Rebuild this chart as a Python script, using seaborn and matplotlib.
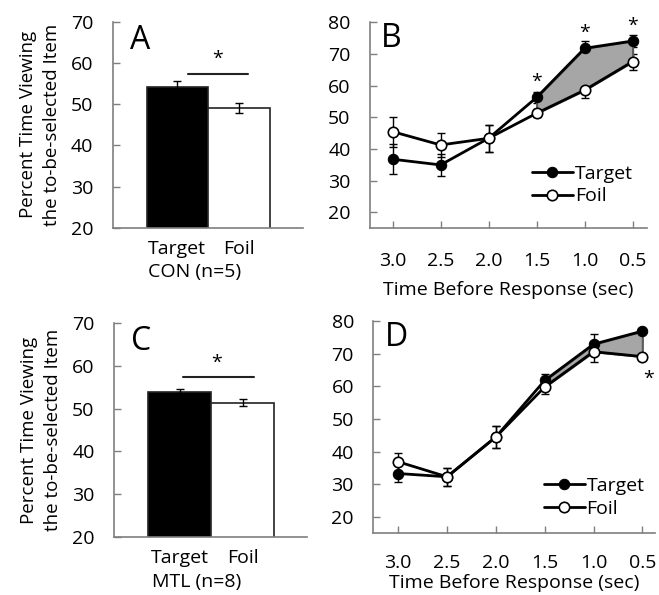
import numpy as np
import pandas as pd
import seaborn as sns
import matplotlib.pyplot as plt

sns.set_theme(style="ticks")
plt.rcParams['font.family'] = ['Open Sans', 'DejaVu Sans']
plt.rcParams['text.color'] = 'black'
plt.rcParams['axes.labelcolor'] = 'black'
plt.rcParams['xtick.labelcolor'] = 'black'
plt.rcParams['ytick.labelcolor'] = 'black'

# bar panels (A, C)
conditions = ["Target", "Foil"]
con_means = [54.2, 49.0]
con_sem = [1.3, 1.2]
mtl_means = [53.9, 51.4]
mtl_sem = [0.8, 0.8]

# line panels (B, D)
times = [3.0, 2.5, 2.0, 1.5, 1.0, 0.5]
con_target = [36.8, 35.0, 43.4, 56.3, 71.8, 74.1]
con_target_sem = [4.7, 3.6, 4.3, 1.8, 2.4, 1.8]
con_foil = [45.5, 41.3, 43.4, 51.3, 58.6, 67.6]
con_foil_sem = [4.7, 3.8, 4.3, 1.3, 2.4, 2.5]
mtl_target = [33.3, 32.3, 44.5, 61.8, 72.9, 76.9]
mtl_target_sem = [2.6, 2.8, 3.3, 2.0, 3.0, 0.6]
mtl_foil = [36.9, 32.3, 44.5, 59.8, 70.6, 69.1]
mtl_foil_sem = [2.7, 2.8, 3.3, 2.3, 3.3, 0.6]

FS = 14
SPINE = '#7f7f7f'

fig = plt.figure(figsize=(6.59, 5.95), dpi=100)
axA = fig.add_axes([0.1710, 0.6173, 0.2888, 0.3462])
axB = fig.add_axes([0.5615, 0.6163, 0.4203, 0.3462])
axC = fig.add_axes([0.1730, 0.0980, 0.2929, 0.3587])
axD = fig.add_axes([0.5665, 0.1037, 0.4275, 0.3568])


def style_axes(ax):
    sns.despine(ax=ax)
    for s in ['left', 'bottom']:
        ax.spines[s].set_color(SPINE)
        ax.spines[s].set_linewidth(1.2)
    ax.tick_params(direction='in', length=5, width=1, color=SPINE,
                   labelsize=FS, pad=14)


def bar_panel(ax, means, sem, letter, group, xlim, sig_x, star_x):
    sns.barplot(x=conditions, y=means, hue=conditions, palette=['black', 'white'],
                edgecolor='#222222', linewidth=1.2, width=1.0, legend=False,
                saturation=1, ax=ax)
    ax.errorbar(range(len(means)), means, yerr=sem, fmt='none', ecolor='black',
                elinewidth=1, capsize=3, capthick=1, zorder=5)
    ax.set_ylim(20, 70)
    ax.set_yticks([20, 30, 40, 50, 60, 70])
    ax.set_xlim(*xlim)
    style_axes(ax)
    ax.tick_params(axis='x', length=0, pad=9)
    ax.set_xlabel(group, fontsize=FS, labelpad=3)
    ax.xaxis.set_label_coords(0.43, -0.17)
    ax.set_ylabel("Percent Time Viewing\nthe to-be-selected Item", fontsize=13.5,
                  labelpad=7, linespacing=1.45)
    ax.plot(sig_x, [57.3, 57.3], color='#222222', lw=1.5)
    ax.text(star_x, 58.7, "*", ha='center', va='bottom', fontsize=FS)
    ax.text(0.09, 0.99, letter, transform=ax.transAxes, ha='left', va='top',
            fontsize=23)


def line_panel(ax, target, target_sem, foil, foil_sem, letter, xlim,
               tickpad, xlabelpad):
    ax.fill_between(times[3:], target[3:], foil[3:], color='#a6a6a6',
                    edgecolor='#5a5a5a', linewidth=1.5, zorder=3)
    ax.errorbar(times, target, yerr=target_sem, fmt='none', ecolor='black',
                elinewidth=1, capsize=3, capthick=1, zorder=2)
    ax.errorbar(times, foil, yerr=foil_sem, fmt='none', ecolor='black',
                elinewidth=1, capsize=3, capthick=1, zorder=2)
    sns.lineplot(x=times, y=target, color='black', lw=2, marker='o',
                 markersize=7.5, markerfacecolor='black', markeredgecolor='black',
                 label='Target', ax=ax, zorder=4)
    sns.lineplot(x=times, y=foil, color='black', lw=2, marker='o',
                 markersize=7.5, markerfacecolor='white', markeredgecolor='black',
                 markeredgewidth=1.2, label='Foil', ax=ax, zorder=4)
    ax.set_ylim(15, 80)
    ax.set_yticks([20, 30, 40, 50, 60, 70, 80])
    ax.set_xticks(times)
    ax.set_xticklabels([f"{t:.1f}" for t in times])
    ax.set_xlim(*xlim)
    style_axes(ax)
    ax.tick_params(axis='x', pad=tickpad)
    ax.set_xlabel("Time Before Response (sec)", fontsize=FS, labelpad=xlabelpad)
    ax.set_ylabel("")
    ax.text(0.04, 1.0, letter, transform=ax.transAxes, ha='left', va='top',
            fontsize=23)


bar_panel(axA, con_means, con_sem, "A", "CON (n=5)", (-1.05, 2.04),
          [0.18, 1.15], 0.66)
bar_panel(axC, mtl_means, mtl_sem, "C", "MTL (n=8)", (-1.04, 2.02),
          [0.06, 1.18], 0.59)

line_panel(axB, con_target, con_target_sem, con_foil, con_foil_sem, "B",
           (3.235, 0.35), 17, 8)
for t, y in zip([1.5, 1.0, 0.5], [58.3, 73.8, 76.2]):
    axB.text(t, y, "*", ha='center', va='bottom', fontsize=FS)
axB.legend(loc='center left', bbox_to_anchor=(0.585, 0.21), frameon=False,
           fontsize=FS, handlelength=2.1, handletextpad=0.1, labelspacing=0.25,
           borderpad=0, borderaxespad=0)

line_panel(axD, mtl_target, mtl_target_sem, mtl_foil, mtl_foil_sem, "D",
           (3.255, 0.37), 15, 1.5)
axD.text(0.44, 59.5, "*", ha='center', va='bottom', fontsize=FS)
axD.legend(loc='center left', bbox_to_anchor=(0.605, 0.17), frameon=False,
           fontsize=FS, handlelength=2.1, handletextpad=0.1, labelspacing=0.25,
           borderpad=0, borderaxespad=0)

fig.savefig("out.png", dpi=100)
